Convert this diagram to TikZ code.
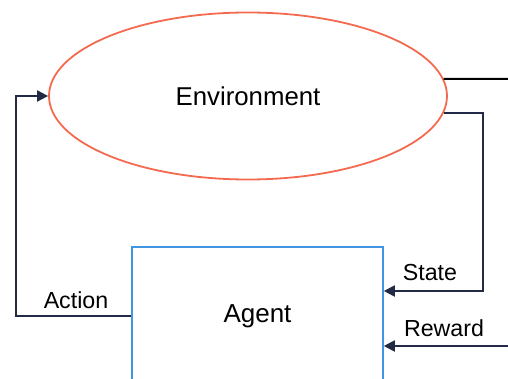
\documentclass[tikz,border=0pt]{standalone}
\usepackage{fontspec}
\setmainfont{Liberation Sans}
\usetikzlibrary{arrows.meta,shapes.geometric}
\definecolor{envred}{RGB}{244,106,80}
\definecolor{agentblue}{RGB}{66,150,225}
\definecolor{linknavy}{RGB}{34,42,70}
\tikzset{
  envnode/.style={ellipse,draw=envred,line width=1.8pt,minimum width=398pt,minimum height=167pt,inner sep=0pt,font=\fontsize{25.8}{30}\selectfont},
  agentnode/.style={rectangle,draw=agentblue,line width=1.6pt,minimum width=251pt,minimum height=138pt,inner sep=0pt,font=\fontsize{26}{30}\selectfont},
  link/.style={draw=linknavy,line width=1.9pt},
  linkarrow/.style={link,-{Triangle[length=11pt,width=11pt]}},
  lbl/.style={font=\fontsize{23.2}{28}\selectfont,inner sep=0pt}
}
\begin{document}
\begin{tikzpicture}[x=1pt,y=-1pt]
  \useasboundingbox (0,0) rectangle (508,379);
  \node[envnode] (env) at (248,96) {Environment};
  \node[agentnode] (agent) at (257.5,316) {Agent};

  % free ends and bends of the connectors
  \coordinate (outR) at (510,79);
  \coordinate (stateBend) at (483,291);
  \coordinate (rewardIn) at (510,346);
  \coordinate (actionBend) at (16,316);

  % outgoing line on the right of the environment
  \draw[line width=2pt,black] (env.5) -- (outR);
  % state feedback
  \draw[linkarrow] (env.-5) -| (stateBend) -- (agent.east |- stateBend);
  % reward feedback
  \draw[linkarrow] (rewardIn) -- (agent.east |- rewardIn);
  % action to the environment
  \draw[linkarrow] (agent.west) -- (actionBend) |- (env.west);

  \node[lbl] (action) at (76,300) {Action};
  \node[lbl] (state) at (430,273) {State};
  \node[lbl] (reward) at (444,328) {Reward};
\end{tikzpicture}
\end{document}
